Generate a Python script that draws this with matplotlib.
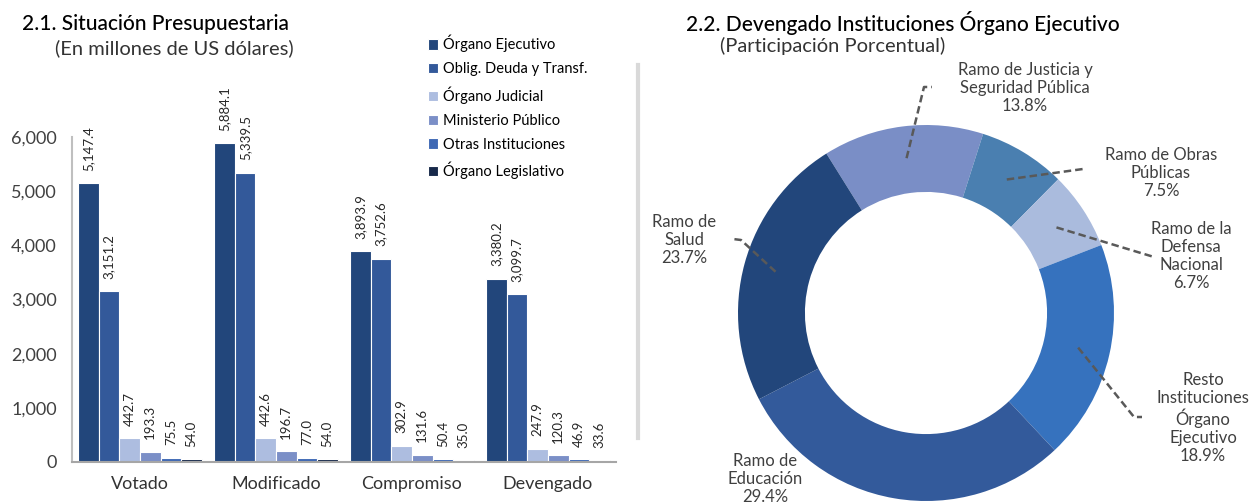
#!/usr/bin/env python3
#
# Situacion presupuestaria (barras) y devengado del Organo Ejecutivo (dona)
#
import numpy as np
import matplotlib
matplotlib.use("Agg")
import matplotlib.pyplot as plt
from matplotlib.lines import Line2D

plt.rcParams['font.family'] = ['Lato', 'DejaVu Sans']

# ---- datos de las barras
etapas = ["Votado", "Modificado", "Compromiso", "Devengado"]
instituciones = ["Órgano Ejecutivo", "Oblig. Deuda y Transf.", "Órgano Judicial",
                 "Ministerio Público", "Otras Instituciones", "Órgano Legislativo"]
organo_ejecutivo = [5147.4, 5884.1, 3893.9, 3380.2]
oblig_deuda = [3151.2, 5339.5, 3752.6, 3099.7]
organo_judicial = [442.7, 442.6, 302.9, 247.9]
ministerio_publico = [193.3, 196.7, 131.6, 120.3]
otras_instituciones = [75.5, 77.0, 50.4, 46.9]
organo_legislativo = [54.0, 54.0, 35.0, 33.6]
series = [organo_ejecutivo, oblig_deuda, organo_judicial,
          ministerio_publico, otras_instituciones, organo_legislativo]
yticks = [0, 1000, 2000, 3000, 4000, 5000, 6000]

# ---- datos de la dona (orden horario desde arriba)
ramos = ["Ramo de Justicia y\nSeguridad Pública", "Ramo de Obras\nPúblicas",
         "Ramo de la\nDefensa\nNacional", "Resto\nInstituciones\nÓrgano\nEjecutivo",
         "Ramo de\nEducación", "Ramo de\nSalud"]
participacion = [13.8, 7.5, 6.7, 18.9, 29.4, 23.7]

bar_colors = ['#22467b', '#33599a', '#adbde0', '#7b8fc7', '#3e68b4', '#17294a']
pie_colors = ['#7a8ec6', '#4a7fb0', '#aabbdd', '#3672be', '#335a9b', '#22467b']

W, H = 1249, 504
def px(x, y):
  # pixel -> fraccion de figura
  return x / W, 1 - y / H

fig = plt.figure(figsize=(W / 100, H / 100), dpi=100)

# ================= barras =================
ax = fig.add_axes([72 / W, 42 / H, 544 / W, 325 / H])
x = np.arange(len(etapas))
bw = 0.152
for i, (vals, name) in enumerate(zip(series, instituciones)):
  xs = x + (i - 2.5) * bw
  ax.bar(xs, vals, bw, color=bar_colors[i], edgecolor='white', linewidth=0.8, label=name)
  for xi, v in zip(xs, vals):
    ax.annotate('{:,.1f}'.format(v), (xi, v), xytext=(0, 9), textcoords='offset points',
                rotation=90, ha='center', va='bottom', fontsize=9.5, color='#262626')

ax.set_xlim(-0.5, 3.5)
ax.set_ylim(0, 6000)
ax.set_yticks(yticks)
ax.set_yticklabels(['{:,.0f}'.format(t) for t in yticks])
ax.set_xticks(x)
ax.set_xticklabels(etapas)
ax.tick_params(axis='y', length=0, pad=11, labelsize=13, labelcolor='#404040')
ax.tick_params(axis='x', length=0, pad=10, labelsize=13, labelcolor='#333333')
for s in ['top', 'right']:
  ax.spines[s].set_visible(False)
ax.spines['left'].set_color('#bfbfbf')
ax.spines['left'].set_linewidth(1.5)
ax.spines['bottom'].set_color('#a6a6a6')
ax.spines['bottom'].set_linewidth(1.5)

handles, labels = ax.get_legend_handles_labels()
fig.legend(handles, labels, loc='upper left', bbox_to_anchor=px(428, 35), frameon=False,
           handlelength=0.7, handleheight=0.7, handletextpad=0.35, labelspacing=0.68,
           fontsize=10.5, borderaxespad=0, borderpad=0)

fig.text(*px(22, 24), "2.1. Situación Presupuestaria", fontsize=15, fontweight='medium',
         va='center', ha='left', color='#000000')
fig.text(*px(55, 48), "(En millones de US dólares)", fontsize=14.5,
         va='center', ha='left', color='#333333')

# separador
fig.add_artist(Line2D([638 / W, 638 / W], [1 - 65 / H, 1 - 438 / H], color='#d9d9d9', lw=3))

# ================= dona =================
cx, cy, R = 926, 313, 188
dax = fig.add_axes([(cx - R) / W, (H - cy - R) / H, 2 * R / W, 2 * R / H])
start = 122
dax.pie(participacion, colors=pie_colors, startangle=start, counterclock=False,
        radius=1, wedgeprops=dict(width=0.356, linewidth=0))
dax.set_xlim(-1, 1)
dax.set_ylim(-1, 1)
dax.axis('off')

def d(x, y):
  # pixel -> datos de la dona
  return (x - cx) / R, (cy - y) / R

# posiciones de etiquetas y quiebres de las guias (pixeles)
label_pos = [(1025, 88), (1161, 173), (1191, 256), (1203, 418), (765, 479), (684, 240)]
guides = [[(924, 87), (932, 87)], [(1083, 169)], [(1154, 257)],
          [(1134, 417), (1142, 417)], [], [(741, 240), (733, 239)]]

cum = 0
for name, share, pos, guide in zip(ramos, participacion, label_pos, guides):
  mid = np.deg2rad(start - (cum + share / 2) * 3.6)
  cum += share
  if guide:
    pts = [(0.83 * np.cos(mid), 0.83 * np.sin(mid))] + [d(*g) for g in guide]
    xs_, ys_ = zip(*pts)
    dax.plot(xs_, ys_, color='#595959', lw=1.8, ls=(0, (3, 1.6)), clip_on=False)
  fig.text(*px(*pos), "{}\n{:.1f}%".format(name, share), ha='center', va='center',
           multialignment='center', fontsize=12, color='#404040', linespacing=1.15)

fig.text(*px(686, 23), "2.2. Devengado Instituciones Órgano Ejecutivo", fontsize=15,
         fontweight='medium', va='center', ha='left', color='#000000')
fig.text(*px(720, 46), "(Participación Porcentual)", fontsize=14.5,
         va='center', ha='left', color='#333333')

fig.savefig("out.png", dpi=100)
